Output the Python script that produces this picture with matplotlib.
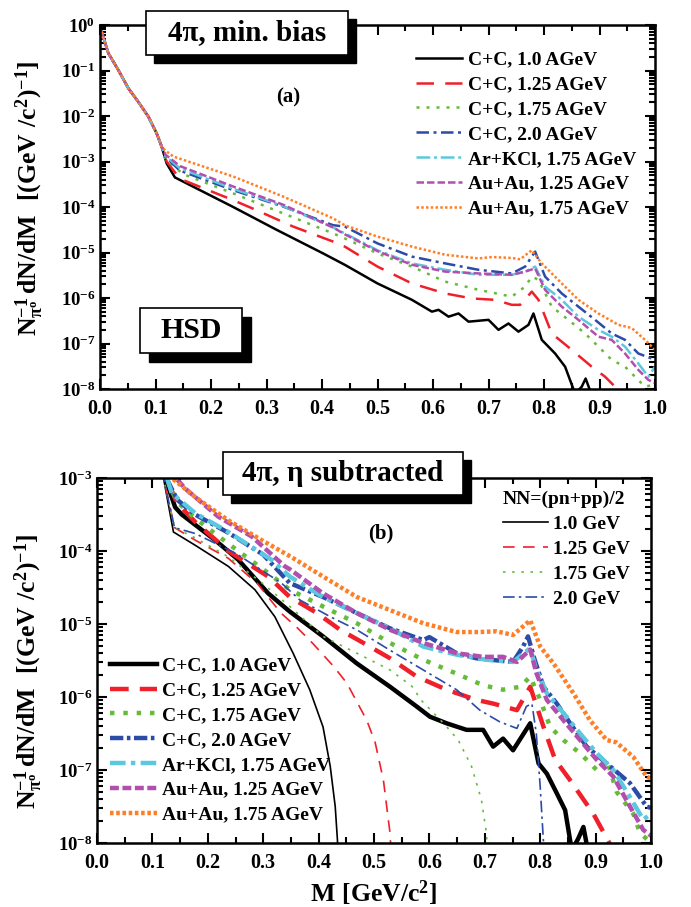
import numpy as np
import matplotlib
matplotlib.use("Agg")
import matplotlib.pyplot as plt
import matplotlib.ticker as ticker
from matplotlib.patches import Rectangle

plt.rcParams['font.family'] = 'Liberation Serif'
plt.rcParams['font.weight'] = 'bold'
plt.rcParams['mathtext.fontset'] = 'custom'
plt.rcParams['mathtext.rm'] = 'Liberation Serif:bold'
plt.rcParams['mathtext.it'] = 'Liberation Serif:bold'
plt.rcParams['mathtext.bf'] = 'Liberation Serif:bold'
plt.rcParams['mathtext.default'] = 'rm'

W, H = 691, 907

# ---- data, panel (a): log10 of dN/dM per pi0 ----
# common low-mass part (Dalitz region), same for all systems
low_x = [0.003, 0.015, 0.033, 0.051, 0.069, 0.087, 0.102, 0.111]
low_ly = [-0.15, -0.62, -0.99, -1.39, -1.69, -2.01, -2.38, -2.67]

a_cc10_x = [0.120, 0.135, 0.198, 0.24, 0.318, 0.402, 0.441, 0.50, 0.562, 0.598, 0.61, 0.628,
            0.646, 0.664, 0.70, 0.718, 0.736, 0.754, 0.772, 0.781, 0.796, 0.82, 0.838, 0.856,
            0.868, 0.875, 0.882, 0.89]
a_cc10_ly = [-3.04, -3.35, -3.74, -4.0, -4.5, -5.02, -5.27, -5.68, -6.04, -6.30, -6.26, -6.41,
             -6.34, -6.52, -6.48, -6.70, -6.56, -6.74, -6.59, -6.34, -6.92, -7.22, -7.51, -8.1,
             -7.95, -7.77, -8.0, -8.3]
a_cc125_x = [0.120, 0.144, 0.24, 0.282, 0.348, 0.42, 0.441, 0.50, 0.562, 0.622, 0.67, 0.712,
             0.742, 0.757, 0.778, 0.79, 0.814, 0.85, 0.886, 0.91, 0.928, 0.95]
a_cc125_ly = [-3.0, -3.38, -3.85, -4.07, -4.43, -4.76, -4.87, -5.31, -5.68, -5.90, -6.01, -6.04,
              -6.15, -6.15, -5.86, -6.04, -6.78, -7.14, -7.51, -7.73, -7.95, -8.3]
a_cc175_x = [0.118, 0.15, 0.24, 0.33, 0.42, 0.441, 0.50, 0.562, 0.622, 0.682, 0.742, 0.766,
             0.778, 0.79, 0.814, 0.844, 0.874, 0.904, 0.922, 0.946, 0.964, 0.982, 1.0]
a_cc175_ly = [-2.95, -3.28, -3.70, -4.14, -4.58, -4.69, -5.02, -5.31, -5.64, -5.82, -5.97, -5.75,
              -5.53, -5.6, -6.19, -6.48, -6.78, -7.14, -7.36, -7.51, -7.73, -7.95, -7.9]
a_cc20_x = [0.118, 0.144, 0.24, 0.33, 0.42, 0.441, 0.50, 0.562, 0.622, 0.682, 0.742, 0.766,
            0.784, 0.802, 0.832, 0.862, 0.892, 0.922, 0.946, 0.97, 0.994, 1.0]
a_cc20_ly = [-2.9, -3.2, -3.63, -3.99, -4.40, -4.43, -4.80, -5.09, -5.24, -5.38, -5.46, -5.31,
             -4.98, -5.53, -5.90, -6.19, -6.48, -6.78, -6.92, -7.22, -7.33, -7.35]
a_arkcl_x = [0.118, 0.144, 0.24, 0.33, 0.42, 0.441, 0.50, 0.562, 0.622, 0.682, 0.742, 0.766,
             0.784, 0.802, 0.832, 0.862, 0.898, 0.922, 0.946, 0.97, 0.988, 1.0]
a_arkcl_ly = [-2.88, -3.15, -3.6, -3.98, -4.45, -4.58, -4.95, -5.24, -5.38, -5.49, -5.49, -5.42,
              -5.31, -5.75, -6.04, -6.41, -6.70, -6.85, -7.07, -7.44, -7.73, -7.51]
a_auau125_x = [0.118, 0.144, 0.24, 0.33, 0.42, 0.441, 0.50, 0.562, 0.622, 0.682, 0.742, 0.766,
               0.784, 0.802, 0.832, 0.862, 0.898, 0.922, 0.946, 0.97, 0.988, 1.0]
a_auau125_ly = [-2.85, -3.1, -3.55, -3.95, -4.45, -4.6, -4.97, -5.27, -5.42, -5.46, -5.49, -5.42,
                -5.35, -5.82, -6.19, -6.48, -6.85, -6.92, -7.22, -7.58, -7.80, -7.87]
a_auau175_x = [0.117, 0.132, 0.24, 0.33, 0.42, 0.441, 0.50, 0.562, 0.622, 0.682, 0.706, 0.742,
               0.757, 0.778, 0.796, 0.832, 0.862, 0.898, 0.934, 0.958, 0.982, 1.0]
a_auau175_ly = [-2.75, -2.89, -3.33, -3.77, -4.25, -4.40, -4.65, -4.87, -5.05, -5.13, -5.10, -5.12,
                -5.15, -4.95, -5.24, -5.68, -6.04, -6.34, -6.59, -6.66, -6.92, -7.14]

# ---- data, panel (b): eta subtracted ----
b_cc10_x = [0.11, 0.123, 0.141, 0.153, 0.177, 0.213, 0.255, 0.309, 0.348, 0.408, 0.469, 0.529,
            0.577, 0.601, 0.631, 0.667, 0.697, 0.715, 0.733, 0.751, 0.782, 0.797, 0.812, 0.83,
            0.845, 0.857, 0.868, 0.878, 0.886]
b_cc10_ly = [-2.7, -3.0, -3.40, -3.5, -3.64, -3.85, -4.12, -4.58, -4.83, -5.17, -5.54, -5.86,
             -6.13, -6.27, -6.36, -6.45, -6.45, -6.68, -6.57, -6.73, -6.36, -6.91, -7.05, -7.32,
             -7.55, -8.1, -7.95, -7.78, -8.1]
b_cc125_x = [0.11, 0.125, 0.145, 0.177, 0.237, 0.309, 0.348, 0.397, 0.439, 0.481, 0.529, 0.577,
             0.631, 0.685, 0.715, 0.758, 0.782, 0.806, 0.827, 0.854, 0.896, 0.932]
b_cc125_ly = [-2.7, -3.0, -3.35, -3.6, -4.0, -4.35, -4.63, -4.85, -5.08, -5.26, -5.47, -5.72,
              -5.90, -6.04, -6.09, -6.18, -5.86, -6.41, -6.86, -7.14, -7.60, -8.1]
b_cc175_x = [0.11, 0.125, 0.145, 0.177, 0.237, 0.3, 0.348, 0.408, 0.469, 0.529, 0.589, 0.649,
             0.697, 0.733, 0.764, 0.782, 0.8, 0.818, 0.842, 0.872, 0.902, 0.92, 0.938, 0.968,
             0.98, 1.0]
b_cc175_ly = [-2.7, -3.0, -3.33, -3.55, -3.9, -4.25, -4.53, -4.76, -4.99, -5.26, -5.49, -5.68,
              -5.84, -5.90, -5.86, -5.72, -6.04, -6.41, -6.59, -6.77, -7.0, -6.85, -7.3, -7.6,
              -7.86, -8.0]
b_cc20_x = [0.11, 0.125, 0.145, 0.177, 0.237, 0.3, 0.348, 0.408, 0.469, 0.529, 0.589, 0.60,
            0.649, 0.685, 0.751, 0.769, 0.778, 0.79, 0.806, 0.83, 0.854, 0.884, 0.92, 0.962,
            0.992, 1.0]
b_cc20_ly = [-2.7, -3.0, -3.3, -3.5, -3.75, -4.05, -4.44, -4.63, -4.85, -5.06, -5.22, -5.18,
             -5.40, -5.47, -5.52, -5.31, -5.17, -5.49, -5.86, -6.09, -6.36, -6.68, -6.91, -7.18,
             -7.5, -7.52]
b_arkcl_x = [0.11, 0.135, 0.177, 0.237, 0.315, 0.348, 0.408, 0.469, 0.529, 0.589, 0.649, 0.703,
             0.751, 0.782, 0.793, 0.812, 0.842, 0.872, 0.902, 0.932, 0.962, 0.986, 1.0]
b_arkcl_ly = [-2.6, -3.21, -3.48, -3.74, -4.12, -4.35, -4.63, -4.85, -5.06, -5.31, -5.42, -5.49,
              -5.52, -5.33, -5.63, -5.95, -6.22, -6.50, -6.77, -7.0, -7.37, -7.68, -7.6]
b_auau125_x = [0.13, 0.16, 0.219, 0.279, 0.339, 0.348, 0.408, 0.469, 0.529, 0.589, 0.649, 0.697,
               0.733, 0.758, 0.782, 0.793, 0.812, 0.842, 0.872, 0.902, 0.932, 0.962, 0.986, 1.0]
b_auau125_ly = [-2.9, -3.15, -3.53, -3.80, -4.21, -4.25, -4.58, -4.85, -5.08, -5.26, -5.40, -5.45,
                -5.45, -5.52, -5.35, -5.67, -6.04, -6.32, -6.59, -6.86, -7.09, -7.5, -7.82, -7.9]
b_auau175_x = [0.12, 0.135, 0.177, 0.237, 0.297, 0.348, 0.408, 0.469, 0.529, 0.589, 0.649, 0.691,
               0.721, 0.751, 0.782, 0.8, 0.824, 0.86, 0.89, 0.92, 0.937, 0.968, 0.992, 1.0]
b_auau175_ly = [-2.8, -3.0, -3.26, -3.58, -3.85, -4.07, -4.35, -4.63, -4.81, -4.99, -5.11, -5.11,
                -5.10, -5.15, -4.95, -5.31, -5.54, -5.95, -6.32, -6.59, -6.62, -6.82, -7.09, -7.12]

# NN=(pn+pp)/2 reference curves
nn10_x = [0.11, 0.12, 0.138, 0.177, 0.237, 0.285, 0.321, 0.354, 0.384, 0.408, 0.421, 0.43, 0.434, 0.437]
nn10_ly = [-2.6, -3.0, -3.74, -3.92, -4.21, -4.53, -4.90, -5.40, -5.90, -6.41, -6.95, -7.50, -7.96, -8.5]
nn125_x = [0.11, 0.12, 0.14, 0.177, 0.237, 0.29, 0.332, 0.36, 0.39, 0.427, 0.451, 0.487, 0.502,
           0.517, 0.529, 0.533]
nn125_ly = [-2.6, -3.0, -3.68, -3.85, -4.1, -4.45, -4.85, -5.04, -5.27, -5.58, -5.81, -6.32, -6.62,
            -7.14, -7.87, -8.5]
nn175_x = [0.11, 0.12, 0.14, 0.177, 0.237, 0.3, 0.348, 0.408, 0.469, 0.529, 0.568, 0.586, 0.628,
           0.652, 0.676, 0.694, 0.703, 0.707]
nn175_ly = [-2.6, -3.0, -3.68, -3.82, -4.08, -4.45, -4.76, -5.17, -5.40, -5.63, -5.85, -6.05, -6.38,
            -6.59, -6.95, -7.41, -7.87, -8.5]
nn20_x = [0.11, 0.12, 0.14, 0.177, 0.25, 0.333, 0.366, 0.421, 0.469, 0.529, 0.589, 0.649, 0.691,
          0.727, 0.758, 0.775, 0.785, 0.793, 0.8, 0.806, 0.81]
nn20_ly = [-2.6, -3.0, -3.68, -3.76, -4.03, -4.44, -4.67, -4.90, -5.08, -5.36, -5.63, -5.90, -6.18,
           -6.34, -6.43, -6.13, -6.09, -6.5, -7.23, -8.0, -8.5]

labels = ['C+C, 1.0 AGeV', 'C+C, 1.25 AGeV', 'C+C, 1.75 AGeV', 'C+C, 2.0 AGeV',
          'Ar+KCl, 1.75 AGeV', 'Au+Au, 1.25 AGeV', 'Au+Au, 1.75 AGeV']
nn_labels = ['1.0 GeV', '1.25 GeV', '1.75 GeV', '2.0 GeV']
colors = ['black', '#f0202a', '#66bb3a', '#2b4ba6', '#5cc8e0', '#b24fae', '#ff7f27']

a_series = [(a_cc10_x, a_cc10_ly), (a_cc125_x, a_cc125_ly), (a_cc175_x, a_cc175_ly),
            (a_cc20_x, a_cc20_ly), (a_arkcl_x, a_arkcl_ly), (a_auau125_x, a_auau125_ly),
            (a_auau175_x, a_auau175_ly)]
b_series = [(b_cc10_x, b_cc10_ly), (b_cc125_x, b_cc125_ly), (b_cc175_x, b_cc175_ly),
            (b_cc20_x, b_cc20_ly), (b_arkcl_x, b_arkcl_ly), (b_auau125_x, b_auau125_ly),
            (b_auau175_x, b_auau175_ly)]
nn_series = [(nn10_x, nn10_ly), (nn125_x, nn125_ly), (nn175_x, nn175_ly), (nn20_x, nn20_ly)]

# dash patterns (in units of line width)
dash_a = [None, (7, 4.5), (1.2, 2.8), (5, 1.8, 1.2, 1.8), (5.5, 1.5, 1.2, 1.5), (3, 1.2), (1, 0.9)]
dash_b = [None, (4.2, 2.5), (1, 2), (3, 0.8, 0.8, 0.8), (3.5, 1.2, 1, 1.2), (2, 0.8), (0.8, 0.6)]
dash_nn = [None, (7, 5), (1.5, 4), (7, 2.5, 1.5, 2.5)]

ylab = r'$N_{\pi^o}^{-1}\,dN/dM\ \ [(GeV\ /c^2)^{-1}]$'


def px(x0, y0, x1, y1):
    # figure pixel box -> [left, bottom, width, height] fractions
    return [x0 / W, 1 - y1 / H, (x1 - x0) / W, (y1 - y0) / H]


def style_axes(ax, ymin, ymax):
    ax.set_yscale('log')
    ax.set_xlim(0, 1)
    ax.set_ylim(ymin, ymax)
    ax.xaxis.set_major_locator(ticker.MultipleLocator(0.1))
    ax.xaxis.set_minor_locator(ticker.MultipleLocator(0.05))
    ax.xaxis.set_major_formatter(ticker.FormatStrFormatter('%.1f'))
    ax.yaxis.set_major_locator(ticker.LogLocator(base=10, numticks=20))
    ax.yaxis.set_minor_locator(ticker.LogLocator(base=10, subs=np.arange(2, 10), numticks=20))
    ax.yaxis.set_major_formatter(ticker.FuncFormatter(
        lambda v, p: r'$10^{%d}$' % int(round(np.log10(v)))))
    ax.yaxis.set_minor_formatter(ticker.NullFormatter())
    ax.tick_params(which='both', direction='in', top=True, right=True, width=1.5)
    ax.tick_params(which='major', length=7)
    ax.tick_params(which='minor', length=4)
    ax.tick_params(axis='x', pad=7, labelsize=14.5)
    ax.tick_params(axis='y', labelsize=13.5)
    for s in ax.spines.values():
        s.set_linewidth(1.8)
    ax.set_ylabel(ylab, fontsize=18.5)


def shadow_box(fig, x0, y0, x1, y1, text, size, off=8):
    fig.add_artist(Rectangle((x0 / W + off / W, 1 - (y1 + off) / H), (x1 - x0) / W, (y1 - y0) / H,
                             transform=fig.transFigure, facecolor='black', edgecolor='black', zorder=5))
    fig.add_artist(Rectangle((x0 / W, 1 - y1 / H), (x1 - x0) / W, (y1 - y0) / H,
                             transform=fig.transFigure, facecolor='white', edgecolor='black',
                             linewidth=1.2, zorder=6))
    fig.text((x0 + x1) / 2 / W, 1 - (y0 + y1) / 2 / H, text, ha='center', va='center',
             fontsize=size, fontweight='bold', zorder=7)


fig = plt.figure(figsize=(W / 100, H / 100), dpi=100)

# ---------------- panel (a) ----------------
ax1 = fig.add_axes(px(100, 25, 655, 389))
style_axes(ax1, 1e-8, 1.0)
for (xs, ly), c, d, lab in zip(a_series, colors, dash_a, labels):
    x = np.array(low_x + xs)
    y = 10.0 ** np.array(low_ly + ly)
    line, = ax1.plot(x, y, color=c, lw=1.8, label=lab)
    if d is not None:
        line.set_dashes(d)
ax1.yaxis.set_label_coords(-0.095, 0.525)
leg1 = ax1.legend(loc='upper left', bbox_to_anchor=(416 / W, 1 - 51 / H),
                  bbox_transform=fig.transFigure, frameon=False, fontsize=14,
                  handlelength=2.37, handletextpad=0.3, labelspacing=0.37, borderpad=0, borderaxespad=0)
ax1.text(0.339, 0.80, '(a)', transform=ax1.transAxes, fontsize=15, ha='center', va='center')

# ---------------- panel (b) ----------------
ax2 = fig.add_axes(px(97, 478, 651, 843))
style_axes(ax2, 1e-8, 1e-3)
handles = []
for (xs, ly), c, d, lab in zip(b_series, colors, dash_b, labels):
    line, = ax2.plot(xs, 10.0 ** np.array(ly), color=c, lw=3.2, label=lab)
    if d is not None:
        line.set_dashes(d)
    handles.append(line)
nn_handles = []
for (xs, ly), c, d, lab in zip(nn_series, colors[:4], dash_nn, nn_labels):
    line, = ax2.plot(xs, 10.0 ** np.array(ly), color=c, lw=1.2, label=lab)
    if d is not None:
        line.set_dashes(d)
    nn_handles.append(line)
ax2.yaxis.set_label_coords(-0.092, 0.47)
ax2.set_xlabel(r'$M\ [GeV/c^2]$', fontsize=18.5)
leg_a = ax2.legend(handles=handles, loc='upper left', bbox_to_anchor=(110 / W, 1 - 657 / H),
                   bbox_transform=fig.transFigure, frameon=False, fontsize=14,
                   handlelength=2.4, handletextpad=0.28, labelspacing=0.37, borderpad=0, borderaxespad=0)
ax2.add_artist(leg_a)
leg_b = ax2.legend(handles=nn_handles, loc='upper left', bbox_to_anchor=(503 / W, 1 - 491 / H),
                   bbox_transform=fig.transFigure, frameon=False, fontsize=14,
                   title='NN=(pn+pp)/2', title_fontproperties={'size': 14, 'weight': 'bold'},
                   alignment='left', handlelength=2.3, handletextpad=0.28, labelspacing=0.37,
                   borderpad=0, borderaxespad=0)
ax2.text(0.513, 0.849, '(b)', transform=ax2.transAxes, fontsize=15, ha='center', va='center')

# labelled boxes with drop shadow
shadow_box(fig, 146, 11, 348, 55, '4π, min. bias', 21)
shadow_box(fig, 140, 308, 242, 353, 'HSD', 21.5, off=9)
shadow_box(fig, 223, 452, 463, 495, '4π, η subtracted', 21)

fig.savefig('out.png', dpi=100)
